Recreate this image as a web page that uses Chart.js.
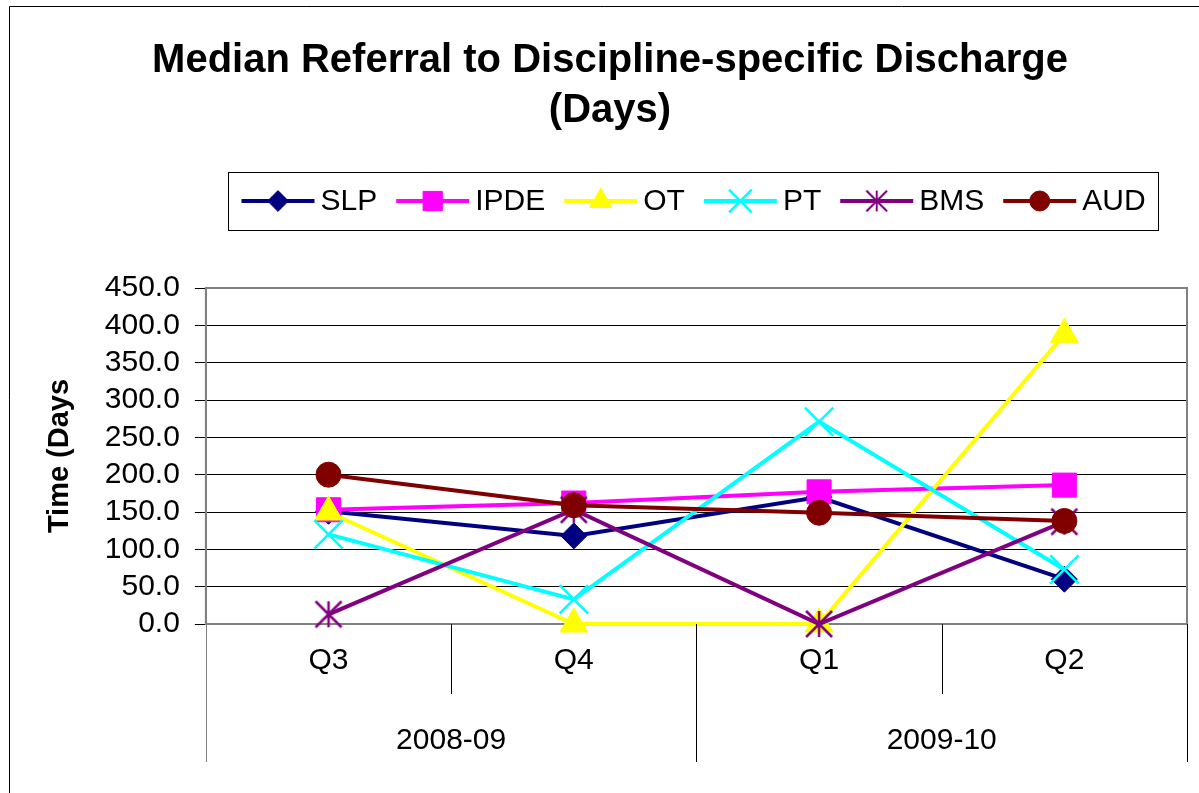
<!DOCTYPE html>
<html>
<head>
<meta charset="utf-8">
<title>Median Referral to Discipline-specific Discharge</title>
<script src="https://cdn.jsdelivr.net/npm/chart.js@4.4.1/dist/chart.umd.min.js"></script>
<style>
  html, body { margin: 0; padding: 0; background: #fff; }
  #wrap { width: 1199px; height: 793px; }
</style>
</head>
<body>
<div id="wrap"><canvas id="referralChart" width="1199" height="793"></canvas></div>
<script>
// categories
const quarters = ['Q3', 'Q4', 'Q1', 'Q2'];
const years = ['2008-09', '2009-10'];

// series (median days)
const slp  = [151, 118, 170, 60];
const ipde = [153, 162, 177, 186];
const ot   = [150, 0, 0, 388];
const pt   = [120, 33, 271, 73];
const bms  = [13, 153, 0, 137];
const aud  = [200, 159, 149, 138];

// y axis ticks
const yMin = 0;
const yMax = 450;
const yStep = 50;

const FONT = "'Liberation Sans', Arial, sans-serif";

// Excel-style star: an X with a vertical bar
function makeStar(color, size) {
    const c = document.createElement('canvas');
    c.width = size;
    c.height = size;
    const g = c.getContext('2d');
    const h = size / 2, r = h - 2;
    g.strokeStyle = color;
    g.lineWidth = 2.5;
    g.beginPath();
    g.moveTo(h - r, h - r); g.lineTo(h + r, h + r);
    g.moveTo(h + r, h - r); g.lineTo(h - r, h + r);
    g.moveTo(h, h - r); g.lineTo(h, h + r);
    g.stroke();
    return c;
}

function series(label, data, color, style, radius, order, strokeOnly) {
    return {
        label: label,
        data: data,
        borderColor: color,
        backgroundColor: color,
        borderWidth: 4,
        pointStyle: style,
        pointRadius: radius,
        pointHoverRadius: radius,
        pointBackgroundColor: color,
        pointBorderColor: color,
        pointBorderWidth: strokeOnly ? 2.5 : 1,
        tension: 0,
        clip: false,
        order: order
    };
}

// draw a legend marker the same way Chart.js draws points
function drawMarker(ctx, ds, x, y, k) {
    const style = ds.pointStyle;
    const r = ds.pointRadius * k;
    ctx.save();
    ctx.fillStyle = ds.pointBackgroundColor;
    ctx.strokeStyle = ds.pointBorderColor;
    ctx.lineWidth = ds.pointBorderWidth;
    if (style instanceof HTMLCanvasElement) {
        const w = style.width * k;
        ctx.drawImage(style, x - w / 2, y - w / 2, w, w);
        ctx.restore();
        return;
    }
    ctx.beginPath();
    if (style === 'circle') {
        ctx.arc(x, y, r, 0, Math.PI * 2);
    } else if (style === 'rect') {
        const s = r * Math.SQRT1_2;
        ctx.rect(x - s, y - s, s * 2, s * 2);
    } else if (style === 'rectRot') {
        ctx.moveTo(x - r, y); ctx.lineTo(x, y - r); ctx.lineTo(x + r, y); ctx.lineTo(x, y + r);
        ctx.closePath();
    } else if (style === 'triangle') {
        ctx.moveTo(x, y - r);
        ctx.lineTo(x + r * Math.sin(2 * Math.PI / 3), y - r * Math.cos(2 * Math.PI / 3));
        ctx.lineTo(x + r * Math.sin(4 * Math.PI / 3), y - r * Math.cos(4 * Math.PI / 3));
        ctx.closePath();
    } else if (style === 'crossRot') {
        const o = r * Math.SQRT1_2;
        ctx.moveTo(x - o, y - o); ctx.lineTo(x + o, y + o);
        ctx.moveTo(x + o, y - o); ctx.lineTo(x - o, y + o);
    }
    if (style !== 'crossRot') ctx.fill();
    ctx.stroke();
    ctx.restore();
}

const framePlugin = {
    id: 'frame',
    beforeDraw(chart) {
        const ctx = chart.ctx;
        ctx.save();
        ctx.fillStyle = '#fff';
        ctx.fillRect(0, 0, chart.width, chart.height);
        ctx.strokeStyle = '#000';
        ctx.lineWidth = 1;
        ctx.beginPath();
        ctx.moveTo(9.5, chart.height);
        ctx.lineTo(9.5, 6.5);
        ctx.lineTo(chart.width, 6.5);
        ctx.stroke();
        ctx.restore();
    },
    beforeDatasetsDraw(chart) {
        const a = chart.chartArea;
        const ctx = chart.ctx;
        ctx.save();
        ctx.strokeStyle = '#808080';
        ctx.lineWidth = 2;
        ctx.strokeRect(a.left, a.top, a.right - a.left, a.bottom - a.top);
        ctx.restore();
    },
    afterDraw(chart) {
        // category separators for the two-level x axis
        const x = chart.scales.x;
        const a = chart.chartArea;
        const ctx = chart.ctx;
        const step = x.getPixelForValue(1) - x.getPixelForValue(0);
        ctx.save();
        ctx.lineWidth = 1;
        for (let i = 0; i <= quarters.length; i++) {
            const px = Math.round(x.getPixelForValue(0) - step / 2 + i * step) + 0.5;
            const isYear = i % 2 === 0;
            ctx.strokeStyle = (i === 0) ? '#808080' : '#000';
            ctx.beginPath();
            ctx.moveTo(px, a.bottom);
            ctx.lineTo(px, a.bottom + (isYear ? 138 : 70));
            ctx.stroke();
        }

        // legend with line + marker samples, boxed, centred over the plot
        const sets = chart.data.datasets;
        ctx.font = '30px ' + FONT;
        ctx.textBaseline = 'middle';
        const sample = 73, gapText = 6, gapItem = 19, pad = 13;
        let total = pad * 2;
        const widths = sets.map(ds => ctx.measureText(ds.label).width);
        widths.forEach((w, i) => { total += sample + gapText + w + (i < sets.length - 1 ? gapItem : 0); });
        const cx = (a.left + a.right) / 2 - 3;
        const boxTop = a.top - 116, boxH = 58;
        const left = Math.round(cx - total / 2) + 0.5;
        ctx.strokeStyle = '#000';
        ctx.lineWidth = 1;
        ctx.strokeRect(left, boxTop + 0.5, Math.round(total), boxH);
        const cy = boxTop + boxH / 2;
        let px = left + pad;
        sets.forEach((ds, i) => {
            ctx.strokeStyle = ds.borderColor;
            ctx.lineWidth = 4;
            ctx.beginPath();
            ctx.moveTo(px, cy);
            ctx.lineTo(px + sample, cy);
            ctx.stroke();
            drawMarker(ctx, ds, px + sample / 2, cy, 0.8);
            ctx.fillStyle = '#000';
            ctx.textAlign = 'left';
            ctx.fillText(ds.label, px + sample + gapText, cy + 1);
            px += sample + gapText + widths[i] + gapItem;
        });
        ctx.restore();
    }
};

const ctx = document.getElementById('referralChart').getContext('2d');

const referralChart = new Chart(ctx, {
    type: 'line',
    data: {
        labels: quarters,
        datasets: [
            series('SLP', slp, '#000080', 'rectRot', 13, 6, false),
            series('IPDE', ipde, '#FF00FF', 'rect', 17, 5, false),
            series('OT', ot, '#FFFF00', 'triangle', 16, 4, false),
            series('PT', pt, '#00FFFF', 'crossRot', 20, 3, true),
            series('BMS', bms, '#800080', makeStar('#800080', 30), 15, 2, true),
            series('AUD', aud, '#800000', 'circle', 12.5, 1, false)
        ]
    },
    options: {
        responsive: false,
        animation: false,
        events: [],
        layout: {
            autoPadding: false,
            padding: { left: 33, right: 12, top: 0, bottom: 9 }
        },
        plugins: {
            legend: { display: false },
            tooltip: { enabled: false },
            title: {
                display: true,
                text: ['Median Referral to Discipline-specific Discharge', '(Days)'],
                color: '#000',
                font: { family: FONT, size: 40, weight: 'bold', lineHeight: 1.25 },
                padding: { top: 36, bottom: 152 }
            }
        },
        scales: {
            x: {
                type: 'category',
                offset: true,
                grid: { display: false },
                border: { display: false },
                ticks: {
                    color: '#000',
                    padding: 11,
                    font: { family: FONT, size: 30 }
                }
            },
            x2: {
                type: 'category',
                position: 'bottom',
                labels: years,
                offset: true,
                grid: { display: false },
                border: { display: false },
                ticks: {
                    color: '#000',
                    padding: 25,
                    font: { family: FONT, size: 30 }
                }
            },
            y: {
                min: yMin,
                max: yMax,
                ticks: {
                    stepSize: yStep,
                    autoSkip: false,
                    color: '#000',
                    padding: 15,
                    font: { family: FONT, size: 30 },
                    callback: v => Number(v).toFixed(1)
                },
                grid: {
                    color: '#000',
                    lineWidth: 1,
                    tickLength: 11
                },
                border: { color: '#808080', width: 2 },
                title: {
                    display: true,
                    text: 'Time (Days',
                    color: '#000',
                    font: { family: FONT, size: 29, weight: 'bold' },
                    padding: { top: 10, bottom: 12 }
                }
            }
        }
    },
    plugins: [framePlugin]
});
</script>
</body>
</html>
